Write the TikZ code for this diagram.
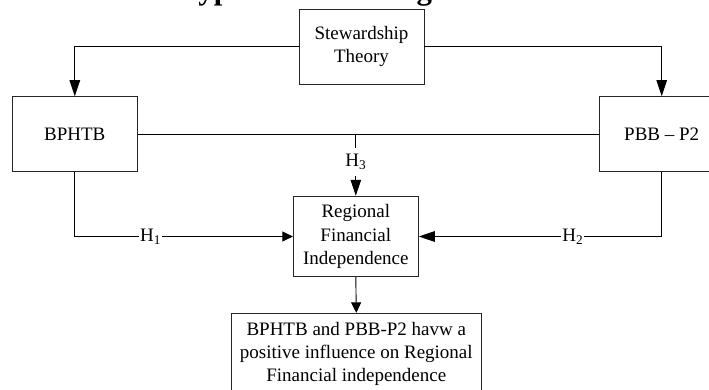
\documentclass[tikz,border=0pt]{standalone}
\usepackage{fontspec}
\setmainfont{Liberation Serif}
\usetikzlibrary{arrows.meta}
\begin{document}
\begin{tikzpicture}[x=1pt,y=-1pt,
  line width=0.9pt,
  box/.style={draw=black!85, line width=0.9pt, minimum width=125pt, minimum height=75pt,
    inner sep=0pt, align=center, font=\fontsize{19}{23.3}\selectfont},
  lab/.style={fill=white, inner sep=1pt, font=\fontsize{19}{23}\selectfont},
  longarr/.style={-{Triangle[length=16pt,width=10.5pt]}},
  shortarr/.style={-{Triangle[length=10.5pt,width=10pt]}}]
\useasboundingbox (0,0) rectangle (709,390);
\clip (0,0) rectangle (709,390);

% cut-off title
\node[anchor=base west, inner sep=0pt, font=\bfseries\fontsize{30.8}{36}\selectfont] (title) at (174,-0.5) {Hypothesis Paradigm};

% boxes
\node[box] (st) at (361.5,46.8) {Stewardship\\Theory};
\node[box] (bp) at (74.8,134.2) {BPHTB};
\node[box] (pb) at (661.7,134.2) {PBB -- P2};
\node[box, minimum height=80.5pt] (rfi) at (355.8,236.5) {Regional\\Financial\\Independence};
\node[box, minimum width=249.3pt, minimum height=81.4pt] (out) at (356.3,354) {BPHTB and PBB-P2 havw a\\positive influence on Regional\\Financial independence};

% theory to variables
\draw[longarr] (st.west) -| (bp.north);
\draw[longarr] (st.east) -| (pb.north);

% H3
\draw (bp.east) -- (pb.west);
\node[lab, fill=none, inner sep=0pt, minimum height=28pt] (h3) at (355.8,162) {H\textsubscript{3}};
\coordinate (j) at (h3 |- bp.east);
\draw (j) -- (h3.north);
\draw[longarr] (h3.south) -- (rfi.north);

% H1, H2
\draw[shortarr] (bp.south) |- node[lab, pos=0.674] (h1) {H\textsubscript{1}} (rfi.west);
\draw[longarr] (pb.south) |- node[lab, pos=0.683] (h2) {H\textsubscript{2}} (rfi.east);

% conclusion
\draw[shortarr] (rfi.south) -- (out.north);
\end{tikzpicture}
\end{document}
